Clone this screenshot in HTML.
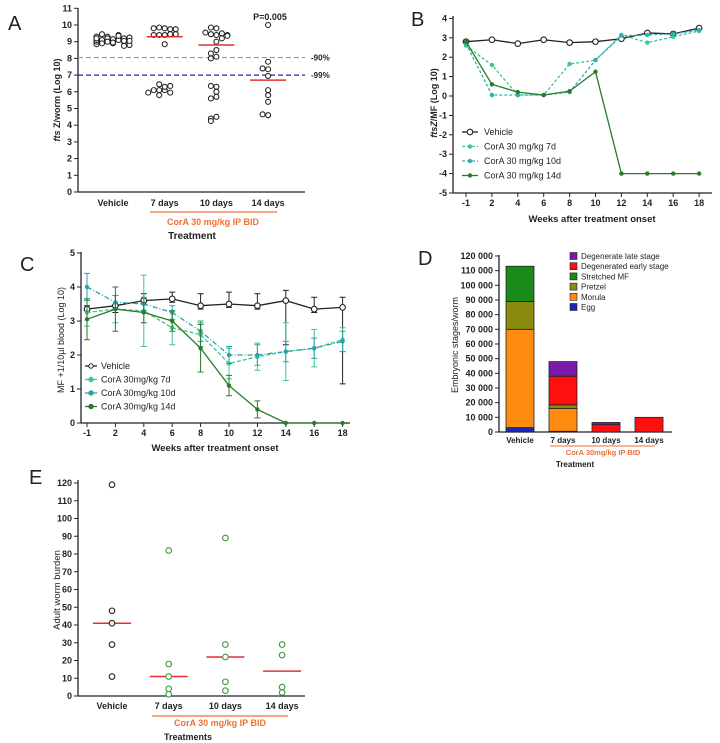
<!DOCTYPE html>
<html><head><meta charset="utf-8"><style>
body{margin:0;background:#fff}
svg{display:block;font-family:"Liberation Sans",Arial,sans-serif}
</style></head><body>
<svg id="s" width="720" height="743" viewBox="0 0 720 743" xmlns="http://www.w3.org/2000/svg"></svg>
<script>
// ---------- data ----------
const aCats=["Vehicle","7 days","10 days","14 days"];
const aVehicle=[9.0,9.05,9.1,8.95,9.0,9.2,9.3,9.35,9.4,9.45,9.3,9.2,9.1,9.0,8.9,8.85,8.8,8.75,9.0,9.05,9.1,9.15,9.25,9.35,8.95,9.0,9.1,8.9,9.2,9.05];
const a7d=[9.8,9.85,9.75,9.8,9.75,9.4,9.4,9.45,9.4,9.45,8.85,6.1,6.3,6.45,6.35,6.1,5.95,5.8,6.1,5.95];
const a10d=[9.4,9.45,9.5,9.8,9.85,9.55,9.4,9.35,9.0,9.2,8.5,8.1,8.0,8.3,6.3,6.35,6.0,5.7,5.6,4.5,4.4,4.25];
const a14d=[10.0,7.8,7.35,7.4,6.95,6.1,5.8,5.4,4.6,4.65];
const aMedians=[null,9.3,8.8,6.7];
const aYTicks=[0,1,2,3,4,5,6,7,8,9,10,11];

const bWeeks=["-1","2","4","6","8","10","12","14","16","18"];
const bVehicle=[2.8,2.9,2.7,2.9,2.75,2.8,2.95,3.25,3.2,3.5];
const b7d=[2.6,1.6,0.05,0.05,1.65,1.85,3.15,2.75,3.05,3.35];
const b10d=[2.7,0.05,0.05,0.05,0.2,1.85,3.1,3.15,3.2,3.4];
const b14d=[2.8,0.6,0.2,0.05,0.25,1.25,-4,-4,-4,-4];
const bYTicks=[-5,-4,-3,-2,-1,0,1,2,3,4];

const cVehicle=[3.35,3.45,3.6,3.65,3.45,3.5,3.45,3.6,3.35,3.4];
const cVehUp=[0.1,0.3,0.2,0.2,0.35,0.35,0.35,0.3,0.35,0.3];
const cVehDn=[0.05,0.2,0.1,0.1,0.1,0.1,0.1,1.3,0.1,2.25];
const c7d=[3.25,3.35,3.3,2.8,2.6,1.75,1.95,2.1,2.2,2.45];
const c7dErr=[0.4,0.4,1.05,0.5,0.35,0.45,0.4,0.85,0.55,0.35];
const c10d=[4.0,3.55,3.5,3.25,2.7,2.0,2.0,2.1,2.2,2.4];
const c10dErr=[0.4,0.2,0.2,0.2,0.3,0.25,0.3,0.3,0.3,0.3];
const c14d=[3.05,3.35,3.25,3.0,2.2,1.1,0.4,0,0,0];
const c14dErr=[0.6,0.65,0.3,0.3,0.7,0.3,0.25,0,0,0];
const cYTicks=[0,1,2,3,4,5];

const dCats=["Vehicle","7 days","10 days","14 days"];
const dStages=["Egg","Morula","Pretzel","Stretched MF","Degenerated early stage","Degenerate late stage"];
const dEgg=[3000,500,0,0];
const dMorula=[67000,15500,0,0];
const dPretzel=[19000,2500,0,0];
const dStretched=[24000,0,0,0];
const dDegEarly=[0,19500,5000,10000];
const dDegLate=[0,10000,1500,0];
const dYTicks=[0,10000,20000,30000,40000,50000,60000,70000,80000,90000,100000,110000,120000];

const eVehicle=[119,48,41,29,11];
const e7d=[82,18,11,4,1];
const e10d=[89,29,22,8,3];
const e14d=[29,23,5,2];
const eMedians=[41,11,22,14];
const eYTicks=[0,10,20,30,40,50,60,70,80,90,100,110,120];

// ---------- helpers ----------
const S=document.getElementById('s');const NS="http://www.w3.org/2000/svg";
function mk(tag,at,parent){const e=document.createElementNS(NS,tag);for(const k in at)e.setAttribute(k,at[k]);(parent||S).appendChild(e);return e;}
function tx(x,y,str,at,parent){const e=mk('text',Object.assign({x:x,y:y,'font-size':9,'font-weight':'bold',fill:'#222'},at||{}),parent);e.textContent=str;return e;}
function grp(name){const g=mk('g',{});return g;}
function circ(g,x,y,col,name,r){const c=mk('circle',{cx:x,cy:y,r:r||2.8,fill:'#fff',stroke:col,'stroke-width':1.1},g);return c;}
function yAxis(g,x,y0,y1,ticks,ys,fmt){
  mk('line',{x1:x,y1:y0,x2:x,y2:y1,stroke:'#223',"stroke-width":1.3},g);
  ticks.forEach(t=>{const y=ys(t);mk('line',{x1:x-4,y1:y,x2:x,y2:y,stroke:'#223'},g);const l=tx(x-6,y+3,fmt?fmt(t):String(t),{'text-anchor':'end'},g);});
}
// ---------- Panel A ----------
(function(){
 const g=grp('panel-a');
 const ys=v=>192-v*16.7; const xs=i=>113+i*51.7;
 const pat=[0,-5.5,5.5,-11,11,-16.5,16.5];
 tx(8,30,"A",{'font-size':20,'font-weight':'normal'},g);
 yAxis(g,78,192,8,aYTicks,ys);
 mk('line',{x1:78,y1:192,x2:305,y2:192,stroke:'#223','stroke-width':1.3},g);
 aCats.forEach((c,i)=>{const l=tx(xs(i),206,c,{'text-anchor':'middle'},g);});
 const l1=mk('line',{x1:78,y1:ys(8.05),x2:305,y2:ys(8.05),stroke:'#5aaee8','stroke-dasharray':'5,3','stroke-width':1.2},g);
 const l2=mk('line',{x1:78,y1:ys(7),x2:305,y2:ys(7),stroke:'#2222b0','stroke-dasharray':'5,3','stroke-width':1.2},g);
 tx(311,ys(8.05)+3,"-90%",{'font-size':8},g);tx(311,ys(7)+3,"-99%",{'font-size':8},g);
 [aVehicle,a7d,a10d,a14d].forEach((arr,i)=>{
   arr.forEach((v,k)=>{let n=0;for(let j=0;j<k;j++)if(Math.abs(arr[j]-v)<0.2)n++;const off=pat[n%7];circ(g,xs(i)+off,ys(v),'#222','point',2.5);});
   if(aMedians[i]!=null){const m=mk('line',{x1:xs(i)-18,x2:xs(i)+18,y1:ys(aMedians[i]),y2:ys(aMedians[i]),stroke:'#e03030','stroke-width':1.5},g);}
 });
 tx(270,20,"P=0.005",{'text-anchor':'middle'},g);
 mk('line',{x1:150,y1:212,x2:277,y2:212,stroke:'#f07030','stroke-width':1.2},g);
 tx(213,225,"CorA 30 mg/kg IP BID",{'text-anchor':'middle',fill:'#f07030'},g);
 tx(192,239,"Treatment",{'text-anchor':'middle','font-size':10},g);
 const t=tx(0,0,"",{'text-anchor':'middle',transform:'translate(60,100) rotate(-90)','font-size':9},g);
 t.innerHTML='<tspan font-style="italic">fts</tspan> Z/worm (Log 10)';
 
})();
// ---------- Panel B ----------
(function(){
 const g=grp('panel-b');
 const ys=v=>96-v*19.4; const xs=i=>466+i*25.9;
 tx(411,26,"B",{'font-size':20,'font-weight':'normal'},g);
 yAxis(g,453,193,16,bYTicks,ys);
 mk('line',{x1:453,y1:193,x2:712,y2:193,stroke:'#223','stroke-width':1.3},g);
 bWeeks.forEach((w,i)=>{mk('line',{x1:xs(i),y1:193,x2:xs(i),y2:197,stroke:'#223'},g);const l=tx(xs(i),206,w,{'text-anchor':'middle'},g);});
 tx(592,222,"Weeks after treatment onset",{'text-anchor':'middle','font-size':9.5},g);
 const t=tx(0,0,"",{'text-anchor':'middle',transform:'translate(437,103) rotate(-90)'},g);
 t.innerHTML='<tspan font-style="italic">ftsZ</tspan>/MF (Log 10)';
 const ser=[[bVehicle,'#222','',"vehicle"],[b7d,'#3cc890','3,2',"cora-7d"],[b10d,'#30b0b0','3,2',"cora-10d"],[b14d,'#2a7a2a','',"cora-14d"]];
 ser.forEach(([arr,col,da,n])=>{const p=mk('polyline',{points:arr.map((v,i)=>xs(i)+','+ys(v)).join(' '),fill:'none',stroke:col,'stroke-width':1.3,'stroke-dasharray':da},g);
   arr.forEach((v,i)=>{if(n==='vehicle')circ(g,xs(i),ys(v),col,'point');else{const m=mk('circle',{cx:xs(i),cy:ys(v),r:2.2,fill:col},g);}});});
 const leg=["Vehicle","CorA 30 mg/kg 7d","CorA 30 mg/kg 10d","CorA 30 mg/kg 14d"];
 ser.forEach((s,i)=>{const y=132+i*14.5;mk('line',{x1:462,x2:478,y1:y,y2:y,stroke:s[1],'stroke-width':1.3,'stroke-dasharray':s[2]},g);if(i==0)circ(g,470,y,s[1],'legend-marker');else mk('circle',{cx:470,cy:y,r:2.2,fill:s[1]},g);const l=tx(484,y+3,leg[i],{'font-weight':'normal','font-size':9},g);});
})();
// ---------- Panel C ----------
(function(){
 const g=grp('panel-c');
 const ys=v=>423-v*34; const xs=i=>87+i*28.4;
 tx(20,271,"C",{'font-size':20,'font-weight':'normal'},g);
 yAxis(g,81,423,252,cYTicks,ys);
 mk('line',{x1:81,y1:423,x2:350,y2:423,stroke:'#223','stroke-width':1.3},g);
 bWeeks.forEach((w,i)=>{mk('line',{x1:xs(i),y1:423,x2:xs(i),y2:427,stroke:'#223'},g);const l=tx(xs(i),436,w,{'text-anchor':'middle'},g);});
 tx(215,451,"Weeks after treatment onset",{'text-anchor':'middle','font-size':9.5},g);
 const t=tx(0,0,"MF +1/10µl blood (Log 10)",{'text-anchor':'middle',transform:'translate(64,340) rotate(-90)','font-weight':'normal'},g);
 const ser=[[cVehicle,cVehUp,cVehDn,'#222','',"vehicle"],[c7d,c7dErr,c7dErr,'#3cc890','4,2',"cora-7d"],[c10d,c10dErr,c10dErr,'#2aa0a8','5,2,1,2',"cora-10d"],[c14d,c14dErr,c14dErr,'#2a7a2a','',"cora-14d"]];
 ser.forEach(([arr,up,dn,col,da,n])=>{
   arr.forEach((v,i)=>{if(up[i]>0){const e=mk('path',{d:`M${xs(i)},${ys(v+up[i])}V${ys(Math.max(0,v-dn[i]))}M${xs(i)-3},${ys(v+up[i])}h6M${xs(i)-3},${ys(Math.max(0,v-dn[i]))}h6`,stroke:col,'stroke-width':1,fill:'none'},g);}});
   const p=mk('polyline',{points:arr.map((v,i)=>xs(i)+','+ys(v)).join(' '),fill:'none',stroke:col,'stroke-width':1.3,'stroke-dasharray':da},g);
   arr.forEach((v,i)=>{if(n==='vehicle')circ(g,xs(i),ys(v),col,'point');else{const m=mk('circle',{cx:xs(i),cy:ys(v),r:2.2,fill:col},g);}});});
 const leg=["Vehicle","CorA 30mg/kg 7d","CorA 30mg/kg 10d","CorA 30mg/kg 14d"];
 ser.forEach((s,i)=>{const y=366+i*13.5;mk('line',{x1:85,x2:97,y1:y,y2:y,stroke:s[3],'stroke-width':1.3},g);mk('circle',{cx:91,cy:y,r:2.2,fill:i?s[3]:'#fff',stroke:s[3]},g);const l=tx(101,y+3,leg[i],{'font-weight':'normal','font-size':9},g);});
})();
// ---------- Panel D ----------
(function(){
 const g=grp('panel-d');
 const ys=v=>432-v*0.001467; const xs=i=>520+i*43;
 tx(418,265,"D",{'font-size':20,'font-weight':'normal'},g);
 yAxis(g,499,432,255,dYTicks,ys,t=>t===0?"0":(Math.floor(t/1000))+" 000");
 mk('line',{x1:499,y1:432,x2:672,y2:432,stroke:'#223','stroke-width':1.3},g);
 const stacks=[dEgg,dMorula,dPretzel,dStretched,dDegEarly,dDegLate];
 const cols=['#1a2ab8','#ff8c10','#8a8a10','#1a8a1a','#ff1010','#7a1aa8'];
 dCats.forEach((c,i)=>{let base=0;stacks.forEach((arr,k)=>{const v=arr[i];if(v>0){const r=mk('rect',{x:xs(i)-14,y:ys(base+v),width:28,height:ys(base)-ys(base+v),fill:cols[k],stroke:'#222','stroke-width':0.8},g);}base+=v;});
   const l=tx(xs(i),443,c,{'text-anchor':'middle','font-size':8},g);});
 mk('line',{x1:550,y1:446,x2:655,y2:446,stroke:'#f07030','stroke-width':1},g);
 tx(603,455,"CorA 30mg/kg IP BID",{'text-anchor':'middle','font-size':7.5,fill:'#f07030'},g);
 tx(575,467,"Treatment",{'text-anchor':'middle','font-size':8},g);
 const t=tx(0,0,"Embryonic stages/worm",{'text-anchor':'middle',transform:'translate(458,345) rotate(-90)','font-weight':'normal','font-size':9},g);
 for(let k=5;k>=0;k--){const y=256+(5-k)*10.2;mk('rect',{x:570,y:y-3.5,width:7,height:7,fill:cols[k],stroke:'#222','stroke-width':0.6},g);const l=tx(581,y+3,dStages[k],{'font-weight':'normal','font-size':8},g);}
})();
// ---------- Panel E ----------
(function(){
 const g=grp('panel-e');
 const ys=v=>696-v*1.775; const xs=i=>112+i*56.7;
 tx(29,484,"E",{'font-size':20,'font-weight':'normal'},g);
 yAxis(g,78,696,480,eYTicks,ys);
 mk('line',{x1:78,y1:696,x2:305,y2:696,stroke:'#223','stroke-width':1.3},g);
 aCats.forEach((c,i)=>{const l=tx(xs(i),709,c,{'text-anchor':'middle'},g);});
 mk('line',{x1:152,y1:716,x2:288,y2:716,stroke:'#f07030','stroke-width':1.2},g);
 tx(220,726,"CorA 30 mg/kg IP BID",{'text-anchor':'middle',fill:'#f07030'},g);
 tx(188,740,"Treatments",{'text-anchor':'middle'},g);
 const t=tx(0,0,"Adult worm burden",{'text-anchor':'middle',transform:'translate(60,590) rotate(-90)','font-weight':'normal','font-size':9.5},g);
 [eVehicle,e7d,e10d,e14d].forEach((arr,i)=>{
   const m=mk('line',{x1:xs(i)-19,x2:xs(i)+19,y1:ys(eMedians[i]),y2:ys(eMedians[i]),stroke:'#e03030','stroke-width':1.5},g);
   arr.forEach(v=>circ(g,xs(i),ys(v),i?'#3a9a3a':'#222','point'));});
})();
</script>
</body></html>
